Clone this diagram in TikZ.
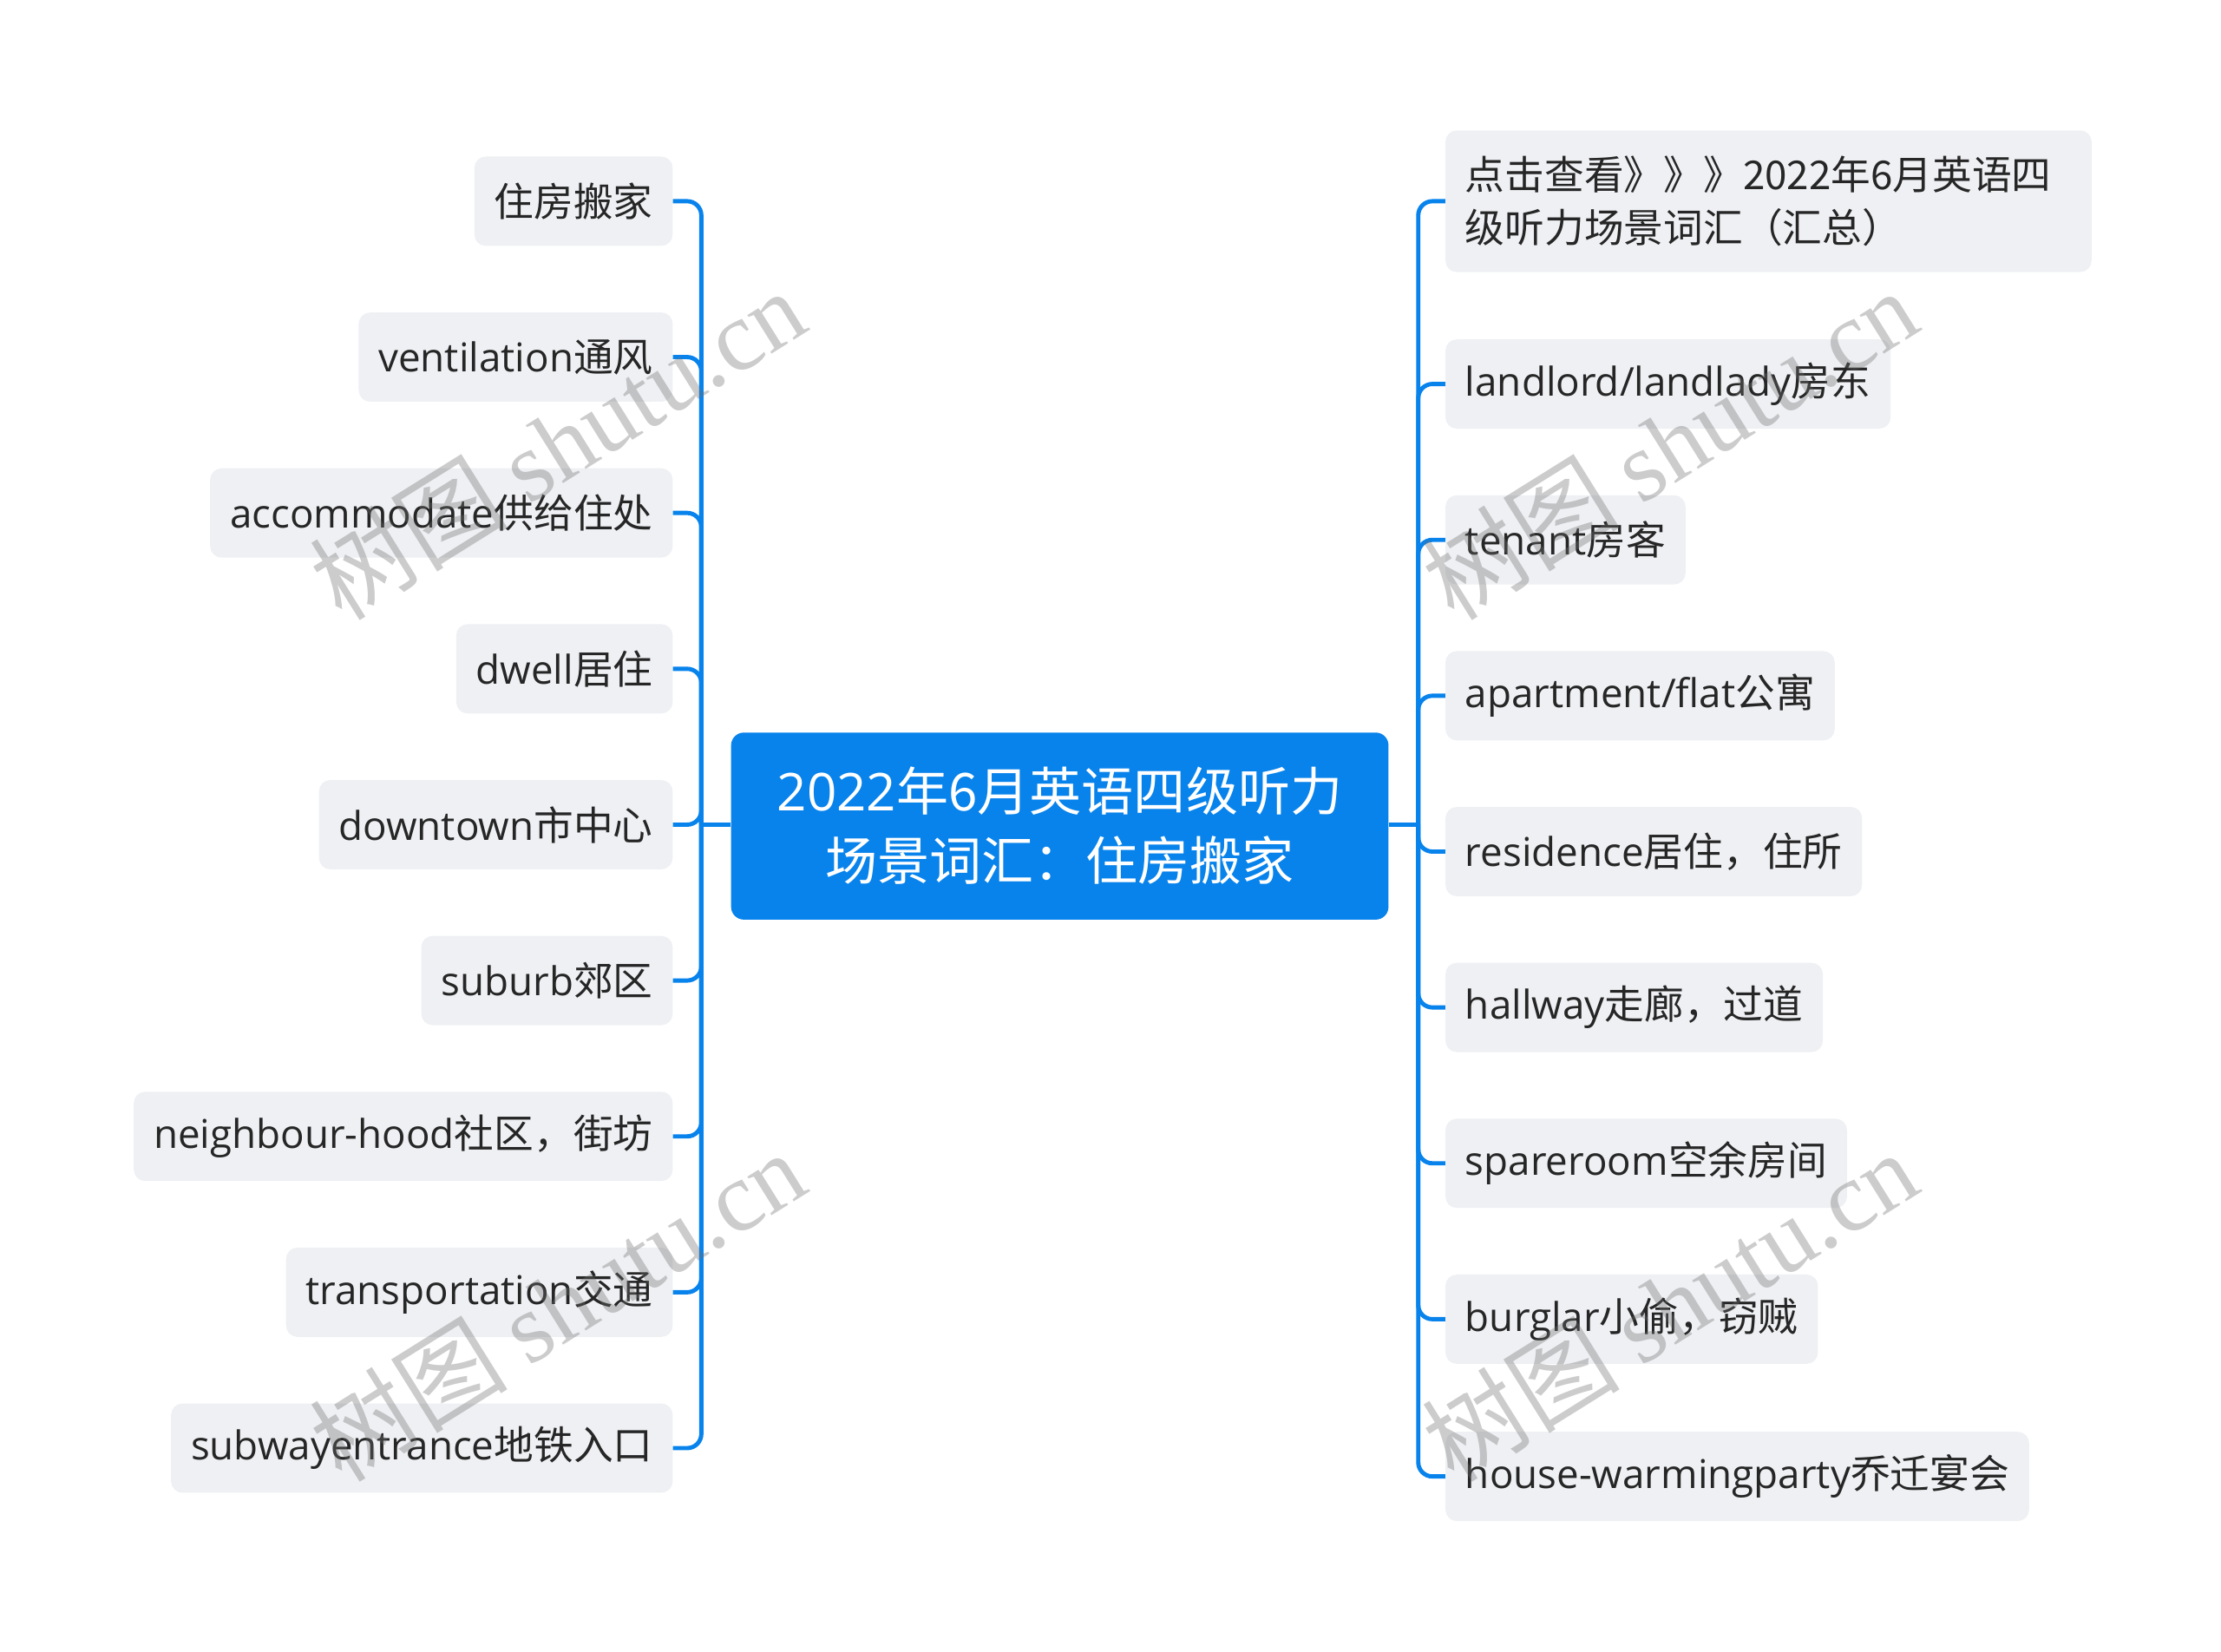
\documentclass[tikz,border=0pt]{standalone}
\usepackage{fontspec}
\setmainfont{Open Sans}
\newfontfamily\cjk{Noto Sans CJK SC}
\newfontfamily\wmserif{Liberation Serif}
\usetikzlibrary{calc}
\definecolor{mainblue}{RGB}{8,131,236}
\definecolor{leafgray}{RGB}{238,240,243}
\definecolor{txtc}{RGB}{38,38,38}
\definecolor{wmc}{RGB}{110,110,110}
\tikzset{
  leaf/.style={fill=leafgray, rounded corners=8pt, minimum height=63pt, inner xsep=14pt, inner ysep=0pt, text=txtc, font=\fontsize{28pt}{37pt}\selectfont},
  rootbox/.style={fill=mainblue, rounded corners=9pt, minimum width=464pt, minimum height=132pt, inner sep=0pt, text=white, align=center, font=\fontsize{36.8pt}{49pt}\selectfont},
  conn/.style={draw=mainblue, line width=3pt, rounded corners=10pt},
  wmark/.style={text=wmc, opacity=0.35, rotate=32, inner sep=0pt, font=\fontsize{70pt}{70pt}\selectfont}
}
\begin{document}
\begin{tikzpicture}[x=1pt,y=-1pt]
\useasboundingbox (0,0) rectangle (1567.6,1165.3);
% root
\node[rootbox] (root) at (748,583) {2022\cjk{年}6\cjk{月英语四级听力}\\\cjk{场景词汇：住房搬家}};
% left leaves
\node[leaf, anchor=east] (l1) at (475,142) {\cjk{住房搬家}};
\node[leaf, anchor=east] (l2) at (475,252) {ventilation\cjk{通风}};
\node[leaf, anchor=east] (l3) at (475,362) {accommodate\cjk{供给住处}};
\node[leaf, anchor=east] (l4) at (475,472) {dwell\cjk{居住}};
\node[leaf, anchor=east] (l5) at (475,582) {downtown\cjk{市中心}};
\node[leaf, anchor=east] (l6) at (475,692) {suburb\cjk{郊区}};
\node[leaf, anchor=east] (l7) at (475,802) {neighbour-hood\cjk{社区，街坊}};
\node[leaf, anchor=east] (l8) at (475,912) {transportation\cjk{交通}};
\node[leaf, anchor=east] (l9) at (475,1022) {subwayentrance\cjk{地铁入口}};
% right leaves
\node[leaf, anchor=west, minimum height=100pt, text width=428pt, align=left] (r1) at (1020,142) {\cjk{点击查看》》》}2022\cjk{年}6\cjk{月英语四}\\\cjk{级听力场景词汇（汇总）}};
\node[leaf, anchor=west] (r2) at (1020,271) {landlord/landlady\cjk{房东}};
\node[leaf, anchor=west] (r3) at (1020,381) {tenant\cjk{房客}};
\node[leaf, anchor=west] (r4) at (1020,491) {apartment/flat\cjk{公寓}};
\node[leaf, anchor=west] (r5) at (1020,601) {residence\cjk{居住，住所}};
\node[leaf, anchor=west] (r6) at (1020,711) {hallway\cjk{走廊，过道}};
\node[leaf, anchor=west] (r7) at (1020,821) {spareroom\cjk{空余房间}};
\node[leaf, anchor=west] (r8) at (1020,931) {burglar\cjk{小偷，窃贼}};
\node[leaf, anchor=west] (r9) at (1020,1042) {house-warmingparty\cjk{乔迁宴会}};
% junctions
\coordinate (jl) at (495,582);
\coordinate (jr) at (1001,582);
\draw[conn] (root.west |- jl) -- (jl);
\draw[conn] (root.east |- jr) -- (jr);
\foreach \n in {l1,l2,l3,l4,l5,l6,l7,l8,l9} {\draw[conn] (jl) |- (\n.east);}
\foreach \n in {r1,r2,r3,r4,r5,r6,r7,r8,r9} {\draw[conn] (jr) |- (\n.west);}
% watermarks
\node[wmark] (w1) at (393,313) {\cjk{树图} \wmserif shutu.cn};
\node[wmark] (w2) at (393,921) {\cjk{树图} \wmserif shutu.cn};
\node[wmark] (w3) at (1178,313) {\cjk{树图} \wmserif shutu.cn};
\node[wmark] (w4) at (1178,921) {\cjk{树图} \wmserif shutu.cn};
\end{tikzpicture}
\end{document}
